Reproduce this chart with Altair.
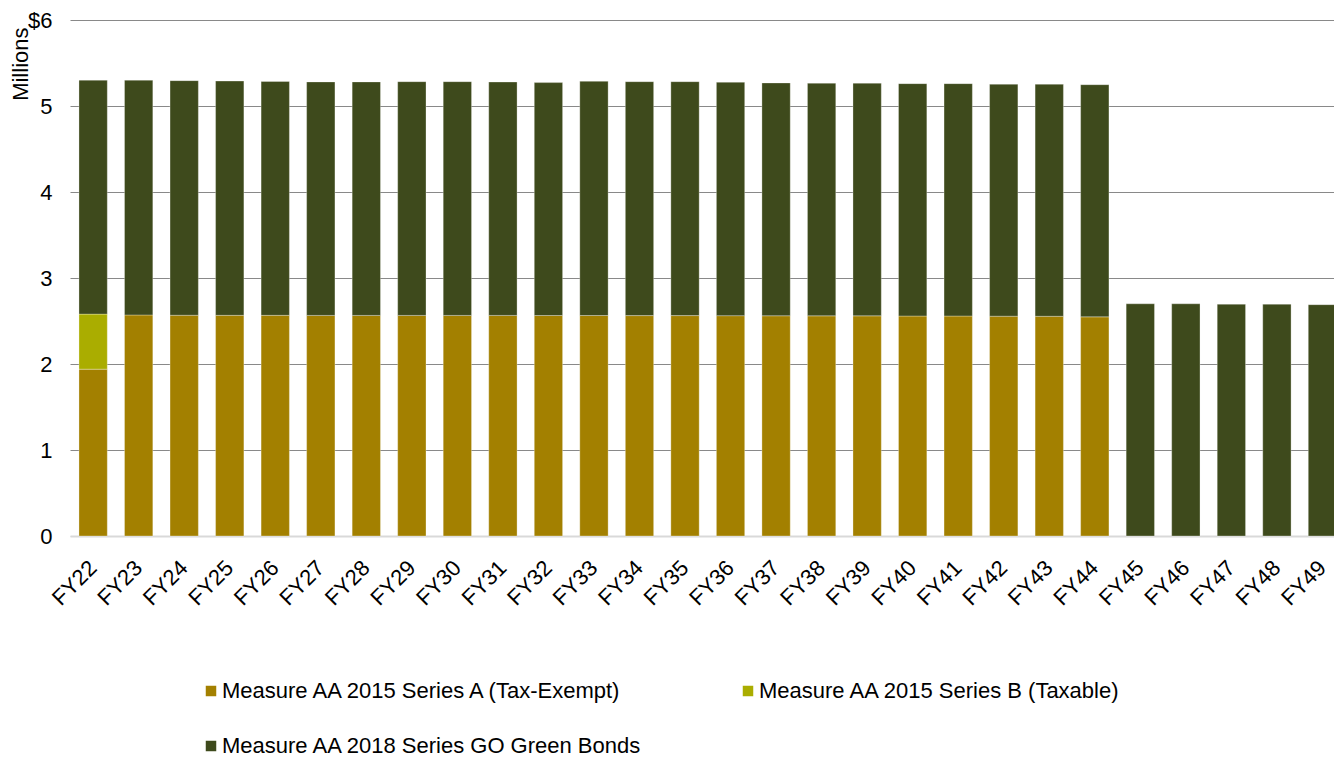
import altair as alt
import pandas as pd

years = ["FY22", "FY23", "FY24", "FY25", "FY26", "FY27", "FY28", "FY29", "FY30",
         "FY31", "FY32", "FY33", "FY34", "FY35", "FY36", "FY37", "FY38", "FY39",
         "FY40", "FY41", "FY42", "FY43", "FY44", "FY45", "FY46", "FY47", "FY48", "FY49"]

series_a = [1.94, 2.57, 2.567, 2.566, 2.566, 2.565, 2.565, 2.565, 2.565, 2.565,
            2.564, 2.564, 2.563, 2.563, 2.562, 2.561, 2.56, 2.56, 2.558, 2.558,
            2.556, 2.555, 2.548, 0, 0, 0, 0, 0]
series_b = [0.64, 0, 0, 0, 0, 0, 0, 0, 0, 0, 0, 0, 0, 0, 0, 0, 0, 0, 0, 0,
            0, 0, 0, 0, 0, 0, 0, 0]
green_bonds = [2.72, 2.73, 2.728, 2.724, 2.719, 2.715, 2.715, 2.718, 2.718, 2.714,
               2.708, 2.723, 2.72, 2.72, 2.714, 2.707, 2.705, 2.705, 2.702, 2.702,
               2.697, 2.698, 2.70, 2.70, 2.70, 2.695, 2.695, 2.69]

series_names = ["Measure AA 2015 Series A (Tax-Exempt)",
                "Measure AA 2015 Series B (Taxable)",
                "Measure AA 2018 Series GO Green Bonds"]
series_colors = ["#A38000", "#AAAD00", "#3E4A1C"]

rows = []
for i, yr in enumerate(years):
    for k, vals in enumerate([series_a, series_b, green_bonds]):
        if vals[i] > 0:
            rows.append({"year": yr, "series": series_names[k], "value": vals[i], "order": k})
df = pd.DataFrame(rows)

FONT = "Liberation Sans"
FS = 22

chart = alt.Chart(df).mark_bar(stroke="#ffffff", strokeWidth=0.6, strokeOpacity=0.5).encode(
    x=alt.X("year:N", sort=years,
            scale=alt.Scale(paddingInner=0.378, paddingOuter=0.0986, align=1,
                            range=[0, 1266.6]),
            axis=alt.Axis(title=None, labelAngle=-45, labelAlign="right",
                          labelBaseline="middle", labelFontSize=FS, labelFont=FONT,
                          labelColor="#000000", labelPadding=28, ticks=False,
                          domainColor="#d9d9d9", domainWidth=2)),
    y=alt.Y("value:Q", stack="zero",
            scale=alt.Scale(domain=[0, 6], nice=False),
            axis=alt.Axis(values=[0, 1, 2, 3, 4, 5, 6],
                          labelExpr="datum.value == 6 ? '$6' : datum.label",
                          labelFontSize=FS, labelFont=FONT, labelColor="#000000",
                          labelPadding=18, ticks=False, domain=False,
                          gridColor=alt.condition("datum.value == 0",
                                                  alt.value("#d9d9d9"),
                                                  alt.value("#898989")),
                          gridWidth=1,
                          title="Millions", titleFont=FONT, titleFontSize=FS,
                          titleFontWeight="normal", titleColor="#000000",
                          titleAngle=270, titleAlign="right", titleBaseline="alphabetic",
                          titleX=-43, titleY=7)),
    color=alt.Color("series:N",
                    scale=alt.Scale(domain=series_names, range=series_colors),
                    legend=alt.Legend(title=None, orient="none", legendX=130, legendY=660,
                                      direction="horizontal",
                                      columns=2, columnPadding=94, rowPadding=33,
                                      symbolType="square", symbolSize=110,
                                      symbolStrokeWidth=0, labelFontSize=FS,
                                      labelFont=FONT, labelColor="#000000",
                                      labelLimit=700, labelOffset=0)),
    order=alt.Order("order:Q", sort="ascending"),
).properties(
    width=1264, height=516,
    autosize=alt.AutoSizeParams(type="none"),
    padding={"left": 70, "top": 20, "right": 0, "bottom": 221},
).configure(background="#ffffff").configure_view(stroke=None)

chart.save("out.html", embed_options={"renderer": "svg", "actions": False})
